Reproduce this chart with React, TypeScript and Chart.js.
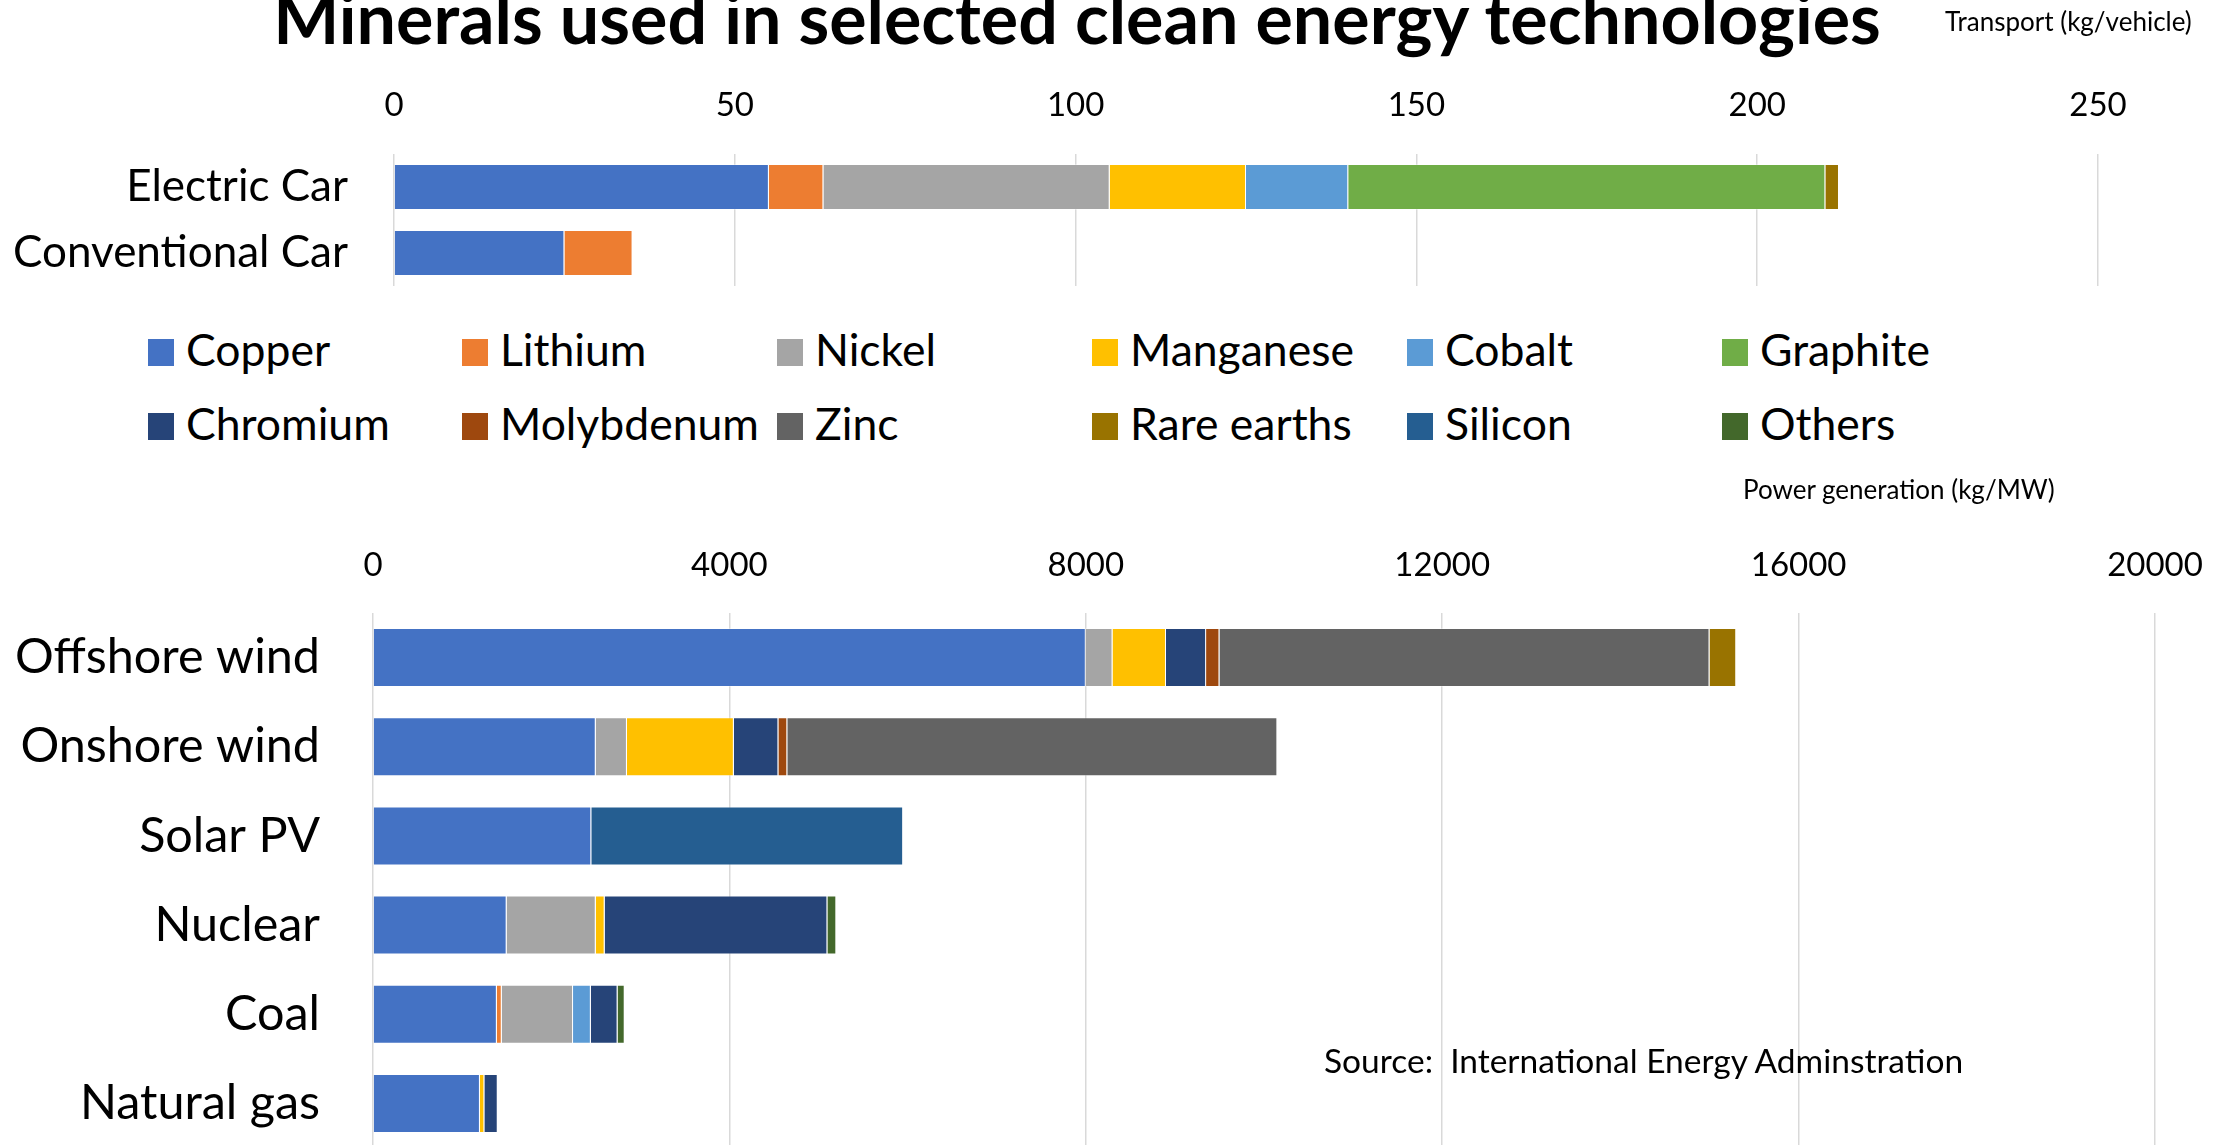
import React, { useEffect, useRef } from "react";
import { Chart, registerables } from "chart.js";

Chart.register(...registerables);

const FONT = "Lato";

// Minerals (series) and their colours
const MINERALS = ["Copper", "Lithium", "Nickel", "Manganese", "Cobalt", "Graphite", "Chromium", "Molybdenum", "Zinc", "Rare earths", "Silicon", "Others"];
const COLORS = ["#4472C4", "#ED7D31", "#A5A5A5", "#FFC000", "#5B9BD5", "#70AD47", "#264478", "#9E480E", "#636363", "#997300", "#255E91", "#43682B"];

// Transport (kg/vehicle)
const TRANSPORT_CATEGORIES = ["Electric Car", "Conventional Car"];
const TRANSPORT_COPPER = [55, 25];
const TRANSPORT_LITHIUM = [8, 10];
const TRANSPORT_NICKEL = [42, null];
const TRANSPORT_MANGANESE = [20, null];
const TRANSPORT_COBALT = [15, null];
const TRANSPORT_GRAPHITE = [70, null];
const TRANSPORT_RARE_EARTHS = [2, null];
const TRANSPORT_TICKS = { min: 0, max: 250, step: 50 };

// Power generation (kg/MW)
const POWER_CATEGORIES = ["Offshore wind", "Onshore wind", "Solar PV", "Nuclear", "Coal", "Natural gas"];
const POWER_COPPER = [8000, 2500, 2450, 1500, 1390, 1200];
const POWER_LITHIUM = [null, null, null, null, 55, null];
const POWER_NICKEL = [300, 350, null, 1000, 800, null];
const POWER_MANGANESE = [600, 1200, null, 100, null, 50];
const POWER_COBALT = [null, null, null, null, 200, null];
const POWER_CHROMIUM = [450, 500, null, 2500, 300, 150];
const POWER_MOLYBDENUM = [150, 100, null, null, null, null];
const POWER_ZINC = [5500, 5500, null, null, null, null];
const POWER_RARE_EARTHS = [300, null, null, null, null, null];
const POWER_SILICON = [null, null, 3500, null, null, null];
const POWER_OTHERS = [null, null, null, 100, 80, null];
const POWER_TICKS = { min: 0, max: 20000, step: 4000 };

const TRANSPORT_SERIES: Record<string, (number | null)[]> = {
  Copper: TRANSPORT_COPPER,
  Lithium: TRANSPORT_LITHIUM,
  Nickel: TRANSPORT_NICKEL,
  Manganese: TRANSPORT_MANGANESE,
  Cobalt: TRANSPORT_COBALT,
  Graphite: TRANSPORT_GRAPHITE,
  "Rare earths": TRANSPORT_RARE_EARTHS,
};
const POWER_SERIES: Record<string, (number | null)[]> = {
  Copper: POWER_COPPER,
  Lithium: POWER_LITHIUM,
  Nickel: POWER_NICKEL,
  Manganese: POWER_MANGANESE,
  Cobalt: POWER_COBALT,
  Chromium: POWER_CHROMIUM,
  Molybdenum: POWER_MOLYBDENUM,
  Zinc: POWER_ZINC,
  "Rare earths": POWER_RARE_EARTHS,
  Silicon: POWER_SILICON,
  Others: POWER_OTHERS,
};

function buildDatasets(series: Record<string, (number | null)[]>, n: number) {
  return MINERALS.map((m, i) => ({
    label: m,
    data: series[m] ? series[m] : new Array(n).fill(null),
    backgroundColor: COLORS[i],
    borderColor: "rgba(255,255,255,0.35)",
    borderWidth: 1,
  }));
}

type Opts = {
  left: number;
  top: number;
  padRight: number;
  padBottom: number;
  barPct: number;
  xPad: number;
  yPad: number;
  tickSize: number;
  labelSize: number;
  ticks: { min: number; max: number; step: number };
};

function makeChart(canvas: HTMLCanvasElement, labels: string[], datasets: any[], o: Opts) {
  return new Chart(canvas, {
    type: "bar",
    data: { labels, datasets },
    options: {
      indexAxis: "y",
      responsive: false,
      animation: false,
      layout: { autoPadding: false, padding: { left: 0, right: o.padRight, top: 0, bottom: o.padBottom } },
      plugins: { legend: { display: false }, tooltip: { enabled: false }, title: { display: false } },
      datasets: { bar: { categoryPercentage: 1, barPercentage: o.barPct } },
      scales: {
        x: {
          position: "top",
          stacked: true,
          min: o.ticks.min,
          max: o.ticks.max,
          ticks: {
            stepSize: o.ticks.step,
            padding: o.xPad,
            color: "#000",
            font: { family: FONT, size: o.tickSize },
            maxRotation: 0,
            autoSkip: false,
            callback: (v: any) => String(v),
          },
          grid: { color: "#D9D9D9", lineWidth: 1.5, drawTicks: false },
          border: { display: false },
          afterFit: (s: any) => {
            s.height = o.top;
            s.paddingLeft = 0;
            s.paddingRight = 0;
            s.paddingTop = 0;
            s.paddingBottom = 0;
          },
        },
        y: {
          stacked: true,
          ticks: { padding: o.yPad, color: "#000", font: { family: FONT, size: o.labelSize }, autoSkip: false },
          grid: { display: false, drawTicks: false },
          border: { display: false },
          afterFit: (s: any) => {
            s.width = o.left;
            s.paddingLeft = 0;
            s.paddingRight = 0;
            s.paddingTop = 0;
            s.paddingBottom = 0;
          },
        },
      },
    } as any,
  });
}

function Txt(props: { text: string; x: number; baseline: number; size: number; bold?: boolean; align?: "left" | "center" | "right" }) {
  const { text, x, baseline, size, bold, align = "left" } = props;
  const tx = align === "center" ? "translateX(-50%)" : align === "right" ? "translateX(-100%)" : "none";
  return (
    <div
      style={{
        position: "absolute",
        left: x,
        top: baseline - 0.887 * size,
        fontFamily: FONT,
        fontSize: size,
        fontWeight: bold ? 700 : 400,
        lineHeight: 1,
        whiteSpace: "pre",
        color: "#000",
        transform: tx,
      }}
    >
      {text}
    </div>
  );
}

const LEGEND_X = [148, 462, 777, 1092, 1407, 1722];
const LEGEND_ROW_TOP = [339, 413];

export default function App() {
  const topRef = useRef<HTMLCanvasElement>(null);
  const botRef = useRef<HTMLCanvasElement>(null);

  useEffect(() => {
    const c1 = makeChart(topRef.current!, TRANSPORT_CATEGORIES, buildDatasets(TRANSPORT_SERIES, TRANSPORT_CATEGORIES.length), {
      left: 394,
      top: 154,
      padRight: 128,
      padBottom: 4,
      barPct: 0.697,
      xPad: 29,
      yPad: 46,
      tickSize: 33,
      labelSize: 44,
      ticks: TRANSPORT_TICKS,
    });
    const c2 = makeChart(botRef.current!, POWER_CATEGORIES, buildDatasets(POWER_SERIES, POWER_CATEGORIES.length), {
      left: 373,
      top: 113,
      padRight: 71,
      padBottom: 12,
      barPct: 0.662,
      xPad: 28,
      yPad: 53,
      tickSize: 33,
      labelSize: 48.5,
      ticks: POWER_TICKS,
    });
    let alive = true;
    if ((document as any).fonts) {
      Promise.all([
        (document as any).fonts.load(`33px ${FONT}`),
        (document as any).fonts.load(`48px ${FONT}`),
      ]).then(() => {
        if (alive) {
          c1.update();
          c2.update();
        }
      });
    }
    return () => {
      alive = false;
      c1.destroy();
      c2.destroy();
    };
  }, []);

  return (
    <div style={{ position: "fixed", left: 0, top: 0, width: 2226, height: 1145, overflow: "hidden", background: "#fff" }}>
      <canvas ref={topRef} width={2226} height={290} style={{ position: "absolute", left: 0, top: 0, width: 2226, height: 290 }} />
      <canvas ref={botRef} width={2226} height={660} style={{ position: "absolute", left: 0, top: 500, width: 2226, height: 660 }} />
      <Txt text="Minerals used in selected clean energy technologies" x={1077} baseline={44} size={70} bold align="center" />
      <Txt text="Transport (kg/vehicle)" x={1945} baseline={31.5} size={26} />
      <Txt text="Power generation (kg/MW)" x={1743} baseline={499} size={26} />
      <Txt text="Source:  International Energy Adminstration" x={1324} baseline={1074} size={33.5} />
      {MINERALS.map((m, i) => {
        const col = i % 6;
        const row = Math.floor(i / 6);
        const x = LEGEND_X[col];
        const top = LEGEND_ROW_TOP[row];
        return (
          <React.Fragment key={m}>
            <div style={{ position: "absolute", left: x, top, width: 26, height: 27, background: COLORS[i] }} />
            <Txt text={m} x={x + 38} baseline={top + 27} size={44.5} />
          </React.Fragment>
        );
      })}
    </div>
  );
}
